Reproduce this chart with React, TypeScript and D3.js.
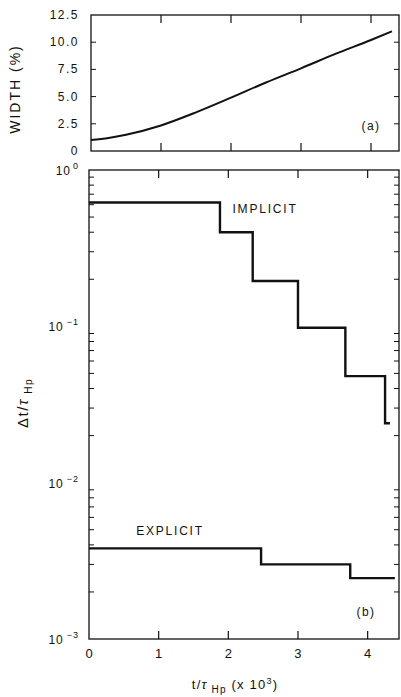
import React from "react";
import * as d3 from "d3";

const W = 401;
const H = 697;

// Panel (a): width (%) vs t/tau_Hp (x10^3)
const widthT = [0, 0.25, 0.5, 1.0, 1.5, 2.0, 2.5, 3.0, 3.5, 4.0, 4.3];
const widthV = [1.0, 1.2, 1.5, 2.35, 3.55, 4.9, 6.3, 7.6, 8.95, 10.2, 11.0];
const widthTicks = [0, 2.5, 5, 7.5, 10, 12.5];
const widthTickLabels = ["0", "2.5", "5.0", "7.5", "10.0", "12.5"];

// Panel (b): step sizes
const implicitT = [0, 1.88, 2.35, 3.0, 3.68, 4.25, 4.32];
const implicitV = [0.62, 0.4, 0.195, 0.098, 0.048, 0.024, 0.024];
const explicitT = [0, 2.47, 3.75, 4.39];
const explicitV = [0.0038, 0.003, 0.00245, 0.00245];
const xTicks = [0, 1, 2, 3, 4];
const decades = [0, -1, -2, -3];

const FONT = "'Liberation Sans', Arial, sans-serif";

export default function App() {
  // top panel
  const aL = 91, aR = 399, aT = 15, aB = 151;
  const xa = d3.scaleLinear().domain([0, 4.4]).range([aL, aR]);
  const ya = d3.scaleLinear().domain([0, 12.5]).range([aB, aT]);
  const lineA = d3
    .line<number>()
    .x((_, i) => xa(widthT[i]))
    .y((d) => ya(d))
    .curve(d3.curveMonotoneX);

  // bottom panel
  const bL = 89, bR = 399, bT = 170, bB = 639;
  const xb = d3.scaleLinear().domain([0, 4.45]).range([bL, bR]);
  const yb = d3.scaleLog().domain([0.001, 1]).range([bB, bT]);
  const stepLine = (ts: number[]) =>
    d3
      .line<number>()
      .x((_, i) => xb(ts[i]))
      .y((d) => yb(d))
      .curve(d3.curveStepAfter);

  const minor: number[] = [];
  for (let e = -3; e < 0; e++) {
    for (let m = 2; m <= 9; m++) minor.push(m * Math.pow(10, e));
  }

  const stroke = "#111";

  return (
    <svg width={W} height={H} style={{ display: "block", position: "absolute", left: 0, top: 0, background: "#fff" }} fontFamily={FONT}>
      <rect x={0} y={0} width={W} height={H} fill="#fff" />
      {/* Panel a */}
      <rect x={aL} y={aT} width={aR - aL} height={aB - aT} fill="none" stroke={stroke} strokeWidth={1.3} />
      {xTicks.slice(1).map((t) => (
        <g key={"at" + t}>
          <line x1={xa(t)} x2={xa(t)} y1={aT} y2={aT + 8} stroke={stroke} strokeWidth={1.2} />
          <line x1={xa(t)} x2={xa(t)} y1={aB} y2={aB - 8} stroke={stroke} strokeWidth={1.2} />
        </g>
      ))}
      {widthTicks.map((v, i) => (
        <g key={"ay" + v}>
          {i > 0 && i < widthTicks.length - 1 && (
            <>
              <line x1={aL} x2={aL + 5} y1={ya(v)} y2={ya(v)} stroke={stroke} strokeWidth={1} />
              <line x1={aR} x2={aR - 5} y1={ya(v)} y2={ya(v)} stroke={stroke} strokeWidth={1} />
            </>
          )}
          <text x={79} y={ya(v) + 4} textAnchor="end" fontSize={12} letterSpacing={1.5} fill={stroke}>
            {widthTickLabels[i]}
          </text>
        </g>
      ))}
      <path d={lineA(widthV) || ""} fill="none" stroke={stroke} strokeWidth={2} />
      <text x={371} y={130} textAnchor="middle" fontSize={12} letterSpacing={1.5} fill={stroke}>(a)</text>
      <text
        transform={`translate(20,${(aT + aB) / 2 + 6}) rotate(-90)`}
        textAnchor="middle"
        fontSize={14}
        letterSpacing={2}
        fill={stroke}
      >
        WIDTH (%)
      </text>

      {/* Panel b */}
      <rect x={bL} y={bT} width={bR - bL} height={bB - bT} fill="none" stroke={stroke} strokeWidth={1.3} />
      {xTicks.slice(1).map((t) => (
        <g key={"bt" + t}>
          <line x1={xb(t)} x2={xb(t)} y1={bT} y2={bT + 8} stroke={stroke} strokeWidth={1.2} />
          <line x1={xb(t)} x2={xb(t)} y1={bB} y2={bB - 8} stroke={stroke} strokeWidth={1.2} />
        </g>
      ))}
      {xTicks.map((t) => (
        <text key={"bx" + t} x={xb(t)} y={658} textAnchor="middle" fontSize={13} fill={stroke}>
          {t}
        </text>
      ))}
      {minor.map((v) => (
        <g key={"mn" + v}>
          <line x1={bL} x2={bL + 5} y1={yb(v)} y2={yb(v)} stroke={stroke} strokeWidth={1} />
          <line x1={bR} x2={bR - 5} y1={yb(v)} y2={yb(v)} stroke={stroke} strokeWidth={1} />
        </g>
      ))}
      {decades.map((e) => (
        <text key={"dec" + e} x={79} y={yb(Math.pow(10, e)) + 5} textAnchor="end" fontSize={12} letterSpacing={1} fill={stroke}>
          10
          <tspan dx={e === 0 ? 2 : 3} dy={-6} fontSize={9}>
            {e === 0 ? "0" : "\u2212" + String(-e)}
          </tspan>
        </text>
      ))}
      <path d={stepLine(implicitT)(implicitV) || ""} fill="none" stroke={stroke} strokeWidth={2.4} />
      <path d={stepLine(explicitT)(explicitV) || ""} fill="none" stroke={stroke} strokeWidth={2.4} />
      <text x={265} y={213} textAnchor="middle" fontSize={12} letterSpacing={1.8} fill={stroke}>IMPLICIT</text>
      <text x={170} y={535} textAnchor="middle" fontSize={12} letterSpacing={1.8} fill={stroke}>EXPLICIT</text>
      <text x={366} y={616} textAnchor="middle" fontSize={12} letterSpacing={1.5} fill={stroke}>(b)</text>
      <text transform={`translate(28,403) rotate(-90)`} textAnchor="middle" fontSize={15} letterSpacing={1.5} fill={stroke}>
        Δt/
        <tspan fontStyle="italic">τ</tspan>
        <tspan dy={4} fontSize={10}> Hp</tspan>
      </text>
      <text x={235} y={689} textAnchor="middle" fontSize={13} letterSpacing={1.2} fill={stroke}>
        t/
        <tspan fontStyle="italic">τ</tspan>
        <tspan dy={4} fontSize={10}> Hp</tspan>
        <tspan dy={-4}> (x 10</tspan>
        <tspan dy={-5} fontSize={9}>3</tspan>
        <tspan dy={5}>)</tspan>
      </text>
    </svg>
  );
}
